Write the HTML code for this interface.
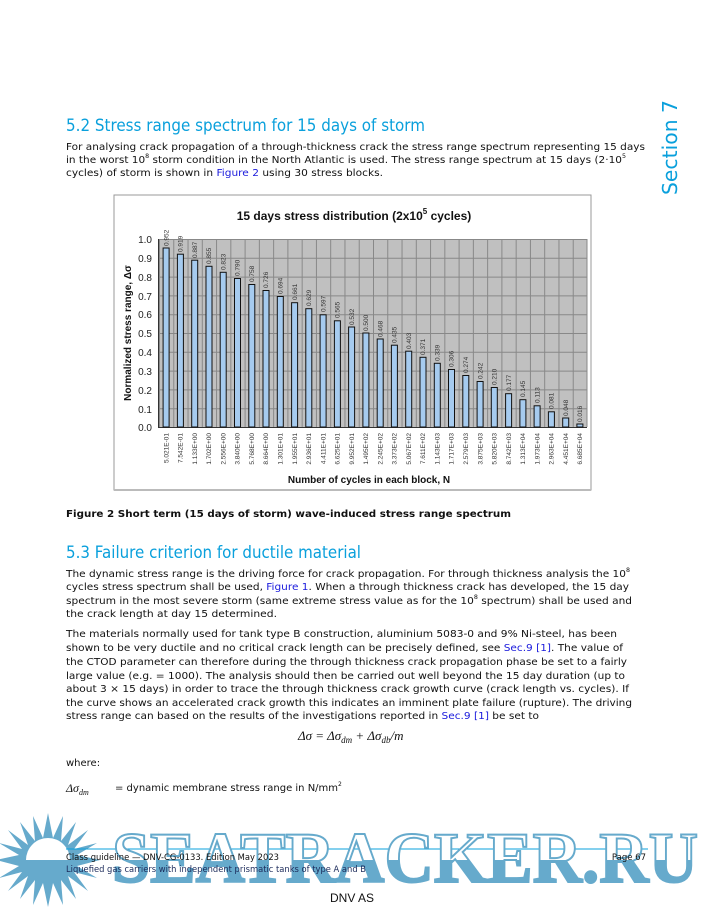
<!DOCTYPE html>
<html><head><meta charset="utf-8"><style>
html,body{margin:0;padding:0;background:#fff}
svg{display:block}
.b{font-family:"DejaVu Sans","Liberation Sans",sans-serif;font-size:10px;fill:#111}
.h{font-family:"DejaVu Sans","Liberation Sans",sans-serif;font-size:16.5px;fill:#0aa0dc}
.c{font-family:"Liberation Sans",sans-serif}
.lk{fill:#1a1adc}
</style></head><body>
<svg width="705" height="912" viewBox="0 0 705 912" xmlns="http://www.w3.org/2000/svg">
<rect width="705" height="912" fill="#fff"/>
<text class="h" x="66" y="131" textLength="359" lengthAdjust="spacingAndGlyphs">5.2 Stress range spectrum for 15 days of storm</text>
<text class="h" transform="translate(677,195) rotate(-90)" style="font-size:20px" textLength="95" lengthAdjust="spacingAndGlyphs">Section 7</text>
<text class="b" x="66" y="150" textLength="579" lengthAdjust="spacingAndGlyphs">For analysing crack propagation of a through-thickness crack the stress range spectrum representing 15 days</text>
<text class="b" x="66" y="163" textLength="560" lengthAdjust="spacingAndGlyphs">in the worst 10<tspan dy="-5" font-size="6">8</tspan><tspan dy="5"> storm condition in the North Atlantic is used. The stress range spectrum at 15 days (2·10</tspan><tspan dy="-5" font-size="6">5</tspan></text>
<text class="b" x="66" y="176" textLength="317" lengthAdjust="spacingAndGlyphs">cycles) of storm is shown in <tspan class="lk">Figure 2</tspan> using 30 stress blocks.</text>

<!-- chart -->
<rect x="114" y="195" width="477" height="295" fill="#fff" stroke="#999" stroke-width="1"/>
<line x1="114" y1="490" x2="591" y2="490" stroke="#bbb" stroke-width="2"/>
<defs><pattern id="vg" x="159" y="0" width="14.2667" height="10" patternUnits="userSpaceOnUse"><line x1="0.5" y1="0" x2="0.5" y2="10" stroke="#888" stroke-width="1"/></pattern></defs>
<rect x="159" y="239" width="428" height="188" fill="#c0c0c0"/>
<rect x="159" y="239" width="428" height="188" fill="url(#vg)"/>
<g stroke="#888" stroke-width="1">
<line x1="159" y1="239.5" x2="587" y2="239.5"/><line x1="159" y1="258.3" x2="587" y2="258.3"/><line x1="159" y1="277.1" x2="587" y2="277.1"/><line x1="159" y1="295.9" x2="587" y2="295.9"/><line x1="159" y1="314.7" x2="587" y2="314.7"/><line x1="159" y1="333.5" x2="587" y2="333.5"/><line x1="159" y1="352.3" x2="587" y2="352.3"/><line x1="159" y1="371.1" x2="587" y2="371.1"/><line x1="159" y1="389.9" x2="587" y2="389.9"/><line x1="159" y1="408.7" x2="587" y2="408.7"/>
</g>
<line x1="587" y1="239" x2="587" y2="427" stroke="#888"/>
<line x1="159" y1="427.5" x2="587" y2="427.5" stroke="#333"/>
<line x1="158.5" y1="239" x2="158.5" y2="428" stroke="#333"/>
<g class="c" font-size="10" fill="#222" text-anchor="end">
<text x="152" y="243">1.0</text><text x="152" y="262">0.9</text><text x="152" y="281">0.8</text><text x="152" y="300">0.7</text><text x="152" y="318">0.6</text><text x="152" y="337">0.5</text><text x="152" y="356">0.4</text><text x="152" y="375">0.3</text><text x="152" y="394">0.2</text><text x="152" y="413">0.1</text><text x="152" y="431">0.0</text>
</g>
<text class="c" x="354" y="220" font-size="12" font-weight="bold" text-anchor="middle" fill="#111">15 days stress distribution (2x10<tspan dy="-6" font-size="8">5</tspan><tspan dy="6"> cycles)</tspan></text>
<text class="c" transform="translate(131,333) rotate(-90)" font-size="10" font-weight="bold" text-anchor="middle" fill="#111">Normalized stress range, Δσ</text>
<text class="c" x="369" y="483" font-size="10" font-weight="bold" text-anchor="middle" fill="#111">Number of cycles in each block, N</text>
<g fill="#a6cbef" stroke="#111" stroke-width="1">
<rect x="163.1" y="248.0" width="6" height="179.0"/><rect x="177.4" y="254.2" width="6" height="172.8"/><rect x="191.7" y="260.2" width="6" height="166.8"/><rect x="206.0" y="266.3" width="6" height="160.7"/><rect x="220.2" y="272.3" width="6" height="154.7"/><rect x="234.5" y="278.5" width="6" height="148.5"/><rect x="248.8" y="284.5" width="6" height="142.5"/><rect x="263.0" y="290.5" width="6" height="136.5"/><rect x="277.3" y="296.5" width="6" height="130.5"/><rect x="291.6" y="302.7" width="6" height="124.3"/><rect x="305.8" y="308.7" width="6" height="118.3"/><rect x="320.1" y="314.8" width="6" height="112.2"/><rect x="334.4" y="320.8" width="6" height="106.2"/><rect x="348.6" y="327.0" width="6" height="100.0"/><rect x="362.9" y="333.0" width="6" height="94.0"/><rect x="377.2" y="339.0" width="6" height="88.0"/><rect x="391.4" y="345.2" width="6" height="81.8"/><rect x="405.7" y="351.2" width="6" height="75.8"/><rect x="420.0" y="357.3" width="6" height="69.7"/><rect x="434.3" y="363.3" width="6" height="63.7"/><rect x="448.5" y="369.5" width="6" height="57.5"/><rect x="462.8" y="375.5" width="6" height="51.5"/><rect x="477.1" y="381.5" width="6" height="45.5"/><rect x="491.3" y="387.5" width="6" height="39.5"/><rect x="505.6" y="393.7" width="6" height="33.3"/><rect x="519.9" y="399.7" width="6" height="27.3"/><rect x="534.1" y="405.8" width="6" height="21.2"/><rect x="548.4" y="411.8" width="6" height="15.2"/><rect x="562.7" y="418.0" width="6" height="9.0"/><rect x="576.9" y="424.0" width="6" height="3.0"/>
</g>
<g class="c" font-size="6.5" fill="#333">
<text transform="translate(168.3,246) rotate(-90)">0.952</text><text transform="translate(182.6,252) rotate(-90)">0.919</text><text transform="translate(196.9,258) rotate(-90)">0.887</text><text transform="translate(211.2,264) rotate(-90)">0.855</text><text transform="translate(225.4,270) rotate(-90)">0.823</text><text transform="translate(239.7,276) rotate(-90)">0.790</text><text transform="translate(254.0,282) rotate(-90)">0.758</text><text transform="translate(268.2,288) rotate(-90)">0.726</text><text transform="translate(282.5,294) rotate(-90)">0.694</text><text transform="translate(296.8,300) rotate(-90)">0.661</text><text transform="translate(311.0,306) rotate(-90)">0.629</text><text transform="translate(325.3,312) rotate(-90)">0.597</text><text transform="translate(339.6,318) rotate(-90)">0.565</text><text transform="translate(353.8,325) rotate(-90)">0.532</text><text transform="translate(368.1,331) rotate(-90)">0.500</text><text transform="translate(382.4,337) rotate(-90)">0.468</text><text transform="translate(396.6,343) rotate(-90)">0.435</text><text transform="translate(410.9,349) rotate(-90)">0.403</text><text transform="translate(425.2,355) rotate(-90)">0.371</text><text transform="translate(439.5,361) rotate(-90)">0.339</text><text transform="translate(453.7,367) rotate(-90)">0.306</text><text transform="translate(468.0,373) rotate(-90)">0.274</text><text transform="translate(482.3,379) rotate(-90)">0.242</text><text transform="translate(496.5,385) rotate(-90)">0.210</text><text transform="translate(510.8,391) rotate(-90)">0.177</text><text transform="translate(525.1,397) rotate(-90)">0.145</text><text transform="translate(539.3,403) rotate(-90)">0.113</text><text transform="translate(553.6,409) rotate(-90)">0.081</text><text transform="translate(567.9,416) rotate(-90)">0.048</text><text transform="translate(582.1,422) rotate(-90)">0.016</text>
</g>
<g class="c" font-size="6.5" fill="#333" text-anchor="end">
<text transform="translate(168.3,433) rotate(-90)">5.021E-01</text><text transform="translate(182.6,433) rotate(-90)">7.542E-01</text><text transform="translate(196.9,433) rotate(-90)">1.133E+00</text><text transform="translate(211.2,433) rotate(-90)">1.702E+00</text><text transform="translate(225.4,433) rotate(-90)">2.556E+00</text><text transform="translate(239.7,433) rotate(-90)">3.840E+00</text><text transform="translate(254.0,433) rotate(-90)">5.768E+00</text><text transform="translate(268.2,433) rotate(-90)">8.664E+00</text><text transform="translate(282.5,433) rotate(-90)">1.301E+01</text><text transform="translate(296.8,433) rotate(-90)">1.955E+01</text><text transform="translate(311.0,433) rotate(-90)">2.936E+01</text><text transform="translate(325.3,433) rotate(-90)">4.411E+01</text><text transform="translate(339.6,433) rotate(-90)">6.625E+01</text><text transform="translate(353.8,433) rotate(-90)">9.952E+01</text><text transform="translate(368.1,433) rotate(-90)">1.495E+02</text><text transform="translate(382.4,433) rotate(-90)">2.245E+02</text><text transform="translate(396.6,433) rotate(-90)">3.373E+02</text><text transform="translate(410.9,433) rotate(-90)">5.067E+02</text><text transform="translate(425.2,433) rotate(-90)">7.611E+02</text><text transform="translate(439.5,433) rotate(-90)">1.143E+03</text><text transform="translate(453.7,433) rotate(-90)">1.717E+03</text><text transform="translate(468.0,433) rotate(-90)">2.579E+03</text><text transform="translate(482.3,433) rotate(-90)">3.875E+03</text><text transform="translate(496.5,433) rotate(-90)">5.820E+03</text><text transform="translate(510.8,433) rotate(-90)">8.742E+03</text><text transform="translate(525.1,433) rotate(-90)">1.313E+04</text><text transform="translate(539.3,433) rotate(-90)">1.973E+04</text><text transform="translate(553.6,433) rotate(-90)">2.963E+04</text><text transform="translate(567.9,433) rotate(-90)">4.451E+04</text><text transform="translate(582.1,433) rotate(-90)">6.685E+04</text>
</g>

<text class="b" x="66" y="517" font-weight="bold" textLength="445" lengthAdjust="spacingAndGlyphs">Figure 2 Short term (15 days of storm) wave-induced stress range spectrum</text>
<text class="h" x="66" y="558" textLength="295" lengthAdjust="spacingAndGlyphs">5.3 Failure criterion for ductile material</text>
<text class="b" x="66" y="577" textLength="564" lengthAdjust="spacingAndGlyphs">The dynamic stress range is the driving force for crack propagation. For through thickness analysis the 10<tspan dy="-5" font-size="6">8</tspan></text>
<text class="b" x="66" y="590" textLength="563" lengthAdjust="spacingAndGlyphs">cycles stress spectrum shall be used, <tspan class="lk">Figure 1</tspan>. When a through thickness crack has developed, the 15 day</text>
<text class="b" x="66" y="604" textLength="566" lengthAdjust="spacingAndGlyphs">spectrum in the most severe storm (same extreme stress value as for the 10<tspan dy="-5" font-size="6">8</tspan><tspan dy="5"> spectrum) shall be used and</tspan></text>
<text class="b" x="66" y="617" textLength="211" lengthAdjust="spacingAndGlyphs">the crack length at day 15 determined.</text>
<text class="b" x="66" y="637" textLength="551" lengthAdjust="spacingAndGlyphs">The materials normally used for tank type B construction, aluminium 5083-0 and 9% Ni-steel, has been</text>
<text class="b" x="66" y="651" textLength="557" lengthAdjust="spacingAndGlyphs">shown to be very ductile and no critical crack length can be precisely defined, see <tspan class="lk">Sec.9 [1]</tspan>. The value of</text>
<text class="b" x="66" y="665" textLength="561" lengthAdjust="spacingAndGlyphs">the CTOD parameter can therefore during the through thickness crack propagation phase be set to a fairly</text>
<text class="b" x="66" y="679" textLength="559" lengthAdjust="spacingAndGlyphs">large value (e.g. = 1000). The analysis should then be carried out well beyond the 15 day duration (up to</text>
<text class="b" x="66" y="692" textLength="563" lengthAdjust="spacingAndGlyphs">about 3 × 15 days) in order to trace the through thickness crack growth curve (crack length vs. cycles). If</text>
<text class="b" x="66" y="706" textLength="566" lengthAdjust="spacingAndGlyphs">the curve shows an accelerated crack growth this indicates an imminent plate failure (rupture). The driving</text>
<text class="b" x="66" y="719" textLength="473" lengthAdjust="spacingAndGlyphs">stress range can based on the results of the investigations reported in <tspan class="lk">Sec.9 [1]</tspan> be set to</text>
<text x="298" y="740" font-family="Liberation Serif,serif" font-size="13" font-style="italic" fill="#111">Δσ = Δσ<tspan font-size="9" dy="3">dm</tspan><tspan dy="-3"> + Δσ</tspan><tspan font-size="9" dy="3">db</tspan><tspan dy="-3">/m</tspan></text>
<text class="b" x="66" y="766">where:</text>
<text x="66" y="792" font-family="Liberation Serif,serif" font-size="12" font-style="italic" fill="#111">Δσ<tspan font-size="8" dy="3">dm</tspan></text>
<text class="b" x="115" y="791">=  dynamic membrane stress range in N/mm<tspan dy="-5" font-size="6">2</tspan></text>

<!-- watermark sun -->
<defs>
<clipPath id="top"><rect x="0" y="0" width="705" height="860"/></clipPath>
<clipPath id="bot"><rect x="0" y="860" width="705" height="60"/></clipPath>
</defs>
<g fill="#66aacc">
<polygon points="48,813 53,838 63,816 61,841 76,822 68,845 88,830 74,849 97,843 77,855 100,860 77,866 97,878 74,872 88,891 68,876 76,899 61,880 63,905 53,883 48,907 43,883 33,905 35,880 20,899 28,876 8,891 22,872 -1,878 19,866 -4,860 19,855 -1,843 22,849 8,830 28,845 20,822 35,841 33,816 43,838"/>
</g>
<path d="M26,860 A22,22 0 0 1 70,860 Z" fill="#fff"/>
<line x1="66" y1="849" x2="648" y2="849" stroke="#0aa0dc" stroke-width="1"/>
<g font-family="Liberation Serif,serif" font-weight="bold" font-size="72">
<text x="112" y="882" textLength="586" lengthAdjust="spacingAndGlyphs" fill="#fff" stroke="#66aacc" stroke-width="2" clip-path="url(#top)">SEATRACKER.RU</text>
<text x="112" y="882" textLength="586" lengthAdjust="spacingAndGlyphs" fill="#66aacc" stroke="#66aacc" stroke-width="2" clip-path="url(#bot)">SEATRACKER.RU</text>
</g>
<text class="b" x="66" y="860" textLength="213" lengthAdjust="spacingAndGlyphs" style="font-size:8.5px">Class guideline — DNV-CG-0133. Edition May 2023</text>
<text class="b" x="66" y="872" textLength="300" lengthAdjust="spacingAndGlyphs" style="font-size:8.5px;fill:#1b2a5a">Liquefied gas carriers with independent prismatic tanks of type A and B</text>
<text class="b" x="646" y="860" text-anchor="end" style="font-size:8.5px">Page 67</text>
<text x="352" y="902" font-family="Liberation Sans,sans-serif" font-size="12" text-anchor="middle" fill="#111">DNV AS</text>
</svg>
</body></html>
